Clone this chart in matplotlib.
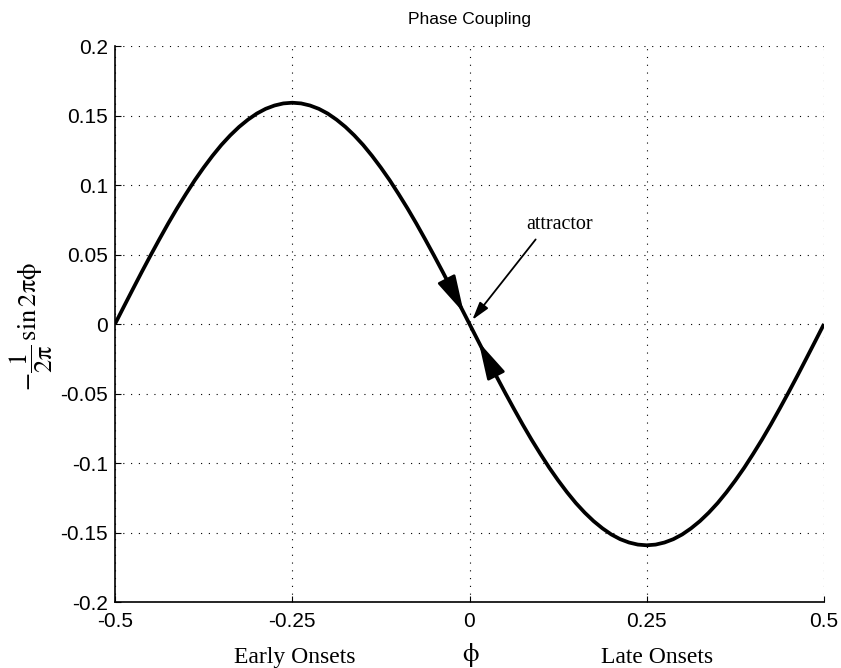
import numpy as np
import matplotlib
matplotlib.use("Agg")
import matplotlib.pyplot as plt
from matplotlib.patches import FancyArrowPatch

# values, step 0.0125 in phi
phi = [-0.5, -0.4875, -0.475, -0.4625, -0.45, -0.4375, -0.425, -0.4125, -0.4, -0.3875,
       -0.375, -0.3625, -0.35, -0.3375, -0.325, -0.3125, -0.3, -0.2875, -0.275, -0.2625,
       -0.25, -0.2375, -0.225, -0.2125, -0.2, -0.1875, -0.175, -0.1625, -0.15, -0.1375,
       -0.125, -0.1125, -0.1, -0.0875, -0.075, -0.0625, -0.05, -0.0375, -0.025, -0.0125,
       0.0, 0.0125, 0.025, 0.0375, 0.05, 0.0625, 0.075, 0.0875, 0.1, 0.1125,
       0.125, 0.1375, 0.15, 0.1625, 0.175, 0.1875, 0.2, 0.2125, 0.225, 0.2375,
       0.25, 0.2625, 0.275, 0.2875, 0.3, 0.3125, 0.325, 0.3375, 0.35, 0.3625,
       0.375, 0.3875, 0.4, 0.4125, 0.425, 0.4375, 0.45, 0.4625, 0.475, 0.4875, 0.5]
coupling = [0.0, 0.0125, 0.0249, 0.0372, 0.0492, 0.0609, 0.0723, 0.0832, 0.0935, 0.1034,
            0.1125, 0.1210, 0.1288, 0.1357, 0.1418, 0.1470, 0.1514, 0.1548, 0.1572, 0.1587,
            0.1592, 0.1587, 0.1572, 0.1548, 0.1514, 0.1470, 0.1418, 0.1357, 0.1288, 0.1210,
            0.1125, 0.1034, 0.0935, 0.0832, 0.0723, 0.0609, 0.0492, 0.0372, 0.0249, 0.0125,
            0.0, -0.0125, -0.0249, -0.0372, -0.0492, -0.0609, -0.0723, -0.0832, -0.0935, -0.1034,
            -0.1125, -0.1210, -0.1288, -0.1357, -0.1418, -0.1470, -0.1514, -0.1548, -0.1572, -0.1587,
            -0.1592, -0.1587, -0.1572, -0.1548, -0.1514, -0.1470, -0.1418, -0.1357, -0.1288, -0.1210,
            -0.1125, -0.1034, -0.0935, -0.0832, -0.0723, -0.0609, -0.0492, -0.0372, -0.0249, -0.0125, 0.0]

xticks = [-0.5, -0.25, 0, 0.25, 0.5]
xticklabels = ["-0.5", "-0.25", "0", "0.25", "0.5"]
yticks = [-0.2, -0.15, -0.1, -0.05, 0, 0.05, 0.1, 0.15, 0.2]
yticklabels = ["-0.2", "-0.15", "-0.1", "-0.05", "0", "0.05", "0.1", "0.15", "0.2"]

# flow arrows on the curve: (start phi, tip phi)
flow_arrows = [(-0.03, -0.008), (0.035, 0.013)]

plt.rcParams["font.family"] = ["Liberation Sans", "DejaVu Sans"]
plt.rcParams["mathtext.fontset"] = "stix"

fig = plt.figure(figsize=(8.41, 6.68), dpi=100)
ax = fig.add_axes([115 / 841, 1 - 602 / 668, 709 / 841, 556 / 668])

ax.plot(phi, coupling, color="black", lw=2.7, solid_capstyle="butt",
        solid_joinstyle="round")

for p0, p1 in flow_arrows:
    y0 = np.interp(p0, phi, coupling)
    y1 = np.interp(p1, phi, coupling)
    ax.add_patch(FancyArrowPatch((p0, y0), (p1, y1),
                                 arrowstyle="-|>,head_length=1.15,head_width=0.3",
                                 mutation_scale=20, color="black", lw=2.0,
                                 shrinkA=0, shrinkB=0))

ax.annotate("attractor", xy=(0.004, 0.003), xytext=(0.127, 0.068),
            ha="center", va="baseline", family="Liberation Serif", fontsize=14.5,
            arrowprops=dict(arrowstyle="-|>,head_length=0.75,head_width=0.22",
                            color="black", lw=1.3, relpos=(0.2, 0.0),
                            shrinkA=2, shrinkB=0))

ax.set_xlim(-0.5, 0.5)
ax.set_ylim(-0.2, 0.2)
ax.set_xticks(xticks)
ax.set_xticklabels(xticklabels)
ax.set_yticks(yticks)
ax.set_yticklabels(yticklabels)
ax.tick_params(direction="in", length=4, labelsize=15, pad=7, color="black")
ax.tick_params(axis="y", pad=5)
ax.grid(True, linestyle=(0, (1, 6)), color="black", lw=0.8)

for s in ["top", "right"]:
    ax.spines[s].set_visible(False)
for s in ["left", "bottom"]:
    ax.spines[s].set_linewidth(1.2)

ax.set_title("Phase Coupling", fontsize=12.5, pad=16)

ax.text(-0.247, -0.240, "Early Onsets", ha="center", va="center",
        family="Liberation Serif", fontsize=17)
ax.text(0.265, -0.240, "Late Onsets", ha="center", va="center",
        family="Liberation Serif", fontsize=17)
ax.text(0.002, -0.238, r"$\mathrm{\phi}$", ha="center", va="center", fontsize=19)

fig.text(31 / 841, 1 - 327 / 668,
         r"$-\dfrac{1}{2\mathrm{\pi}}\,\mathrm{sin}\,2\mathrm{\pi\phi}$",
         rotation=90, ha="center", va="center", fontsize=19)

fig.savefig("out.png", dpi=100)
